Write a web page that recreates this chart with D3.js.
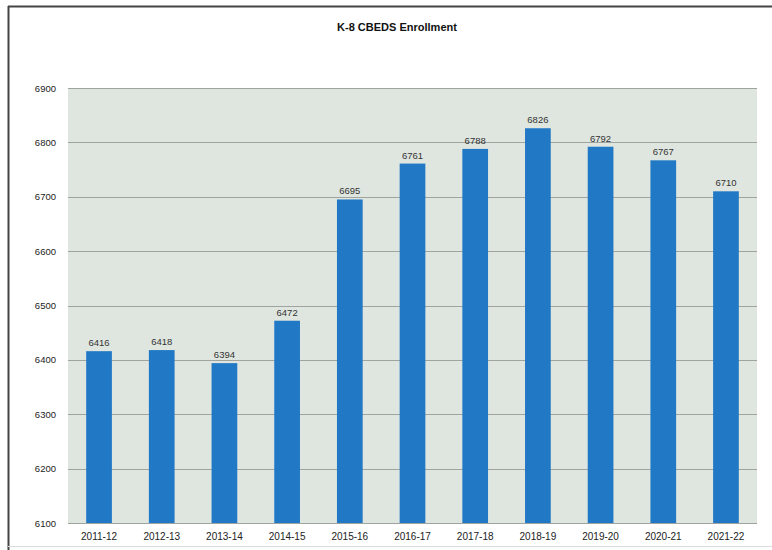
<!DOCTYPE html>
<html>
<head>
<meta charset="utf-8">
<script src="https://cdn.jsdelivr.net/npm/d3@7/dist/d3.min.js"></script>
<style>
  html, body { margin: 0; padding: 0; background: #fff; }
  svg { display: block; }
  text { font-family: "Liberation Sans", Arial, sans-serif; }
</style>
</head>
<body>
<svg id="chart" width="772" height="550"></svg>
<script>
// K-8 CBEDS enrollment by school year
const years = ["2011-12", "2012-13", "2013-14", "2014-15", "2015-16", "2016-17",
               "2017-18", "2018-19", "2019-20", "2020-21", "2021-22"];
const enrollment = [6416, 6418, 6394, 6472, 6695, 6761, 6788, 6826, 6792, 6767, 6710];
const yTicks = [6100, 6200, 6300, 6400, 6500, 6600, 6700, 6800, 6900];

const svg = d3.select("#chart");
const margin = { left: 68, right: 15, top: 88, bottom: 27 };
const W = 772, H = 550;

// outer frame
svg.append("line").attr("x1", 8).attr("x2", 772).attr("y1", 6.5).attr("y2", 6.5)
  .attr("stroke", "#444").attr("stroke-width", 2);
svg.append("line").attr("x1", 8.5).attr("x2", 8.5).attr("y1", 6).attr("y2", 550)
  .attr("stroke", "#444").attr("stroke-width", 2);
svg.append("line").attr("x1", 8).attr("x2", 772).attr("y1", 546.5).attr("y2", 546.5)
  .attr("stroke", "#ddd").attr("stroke-width", 1);

const x = d3.scaleBand().domain(years)
  .range([margin.left, W - margin.right]).paddingInner(0.59).paddingOuter(0.29);
const y = d3.scaleLinear().domain([6100, 6900]).range([H - margin.bottom, margin.top]);

// plot background
svg.append("rect")
  .attr("x", margin.left).attr("y", y(6900))
  .attr("width", W - margin.right - margin.left).attr("height", y(6100) - y(6900))
  .attr("fill", "#dfe6e0");

// gridlines
svg.append("g").selectAll("line").data(yTicks).join("line")
  .attr("x1", margin.left).attr("x2", W - margin.right)
  .attr("y1", d => Math.round(y(d)) + 0.5).attr("y2", d => Math.round(y(d)) + 0.5)
  .attr("stroke", "#9fa4a0").attr("stroke-width", 1.2);

// y axis labels
const yAxis = d3.axisLeft(y).tickValues(yTicks).tickFormat(d3.format("d"))
  .tickSize(0).tickPadding(12);
svg.append("g").attr("transform", `translate(${margin.left},0)`).call(yAxis)
  .call(g => g.select(".domain").remove())
  .call(g => g.selectAll("text").attr("font-size", 9.5).attr("fill", "#222")
    .attr("font-family", "'Liberation Sans', Arial, sans-serif"));

// x axis labels
const xAxis = d3.axisBottom(x).tickSize(0).tickPadding(10);
svg.append("g").attr("transform", `translate(0,${y(6100)})`).call(xAxis)
  .call(g => g.select(".domain").remove())
  .call(g => g.selectAll("text").attr("font-size", 10).attr("fill", "#222")
    .attr("font-family", "'Liberation Sans', Arial, sans-serif"));

// bars
svg.append("g").selectAll("rect").data(years).join("rect")
  .attr("x", d => x(d))
  .attr("width", x.bandwidth())
  .attr("y", (d, i) => y(enrollment[i]))
  .attr("height", (d, i) => y(6100) - y(enrollment[i]))
  .attr("fill", "#2178c4");

// value labels
svg.append("g").selectAll("text").data(years).join("text")
  .attr("x", d => x(d) + x.bandwidth() / 2)
  .attr("y", (d, i) => y(enrollment[i]) - 5)
  .attr("text-anchor", "middle")
  .attr("font-size", 9.5)
  .attr("fill", "#333")
  .text((d, i) => enrollment[i]);

// title
svg.append("text")
  .attr("x", 397).attr("y", 31)
  .attr("text-anchor", "middle")
  .attr("font-size", 11).attr("font-weight", "bold").attr("fill", "#111")
  .text("K-8 CBEDS Enrollment");
</script>
</body>
</html>
